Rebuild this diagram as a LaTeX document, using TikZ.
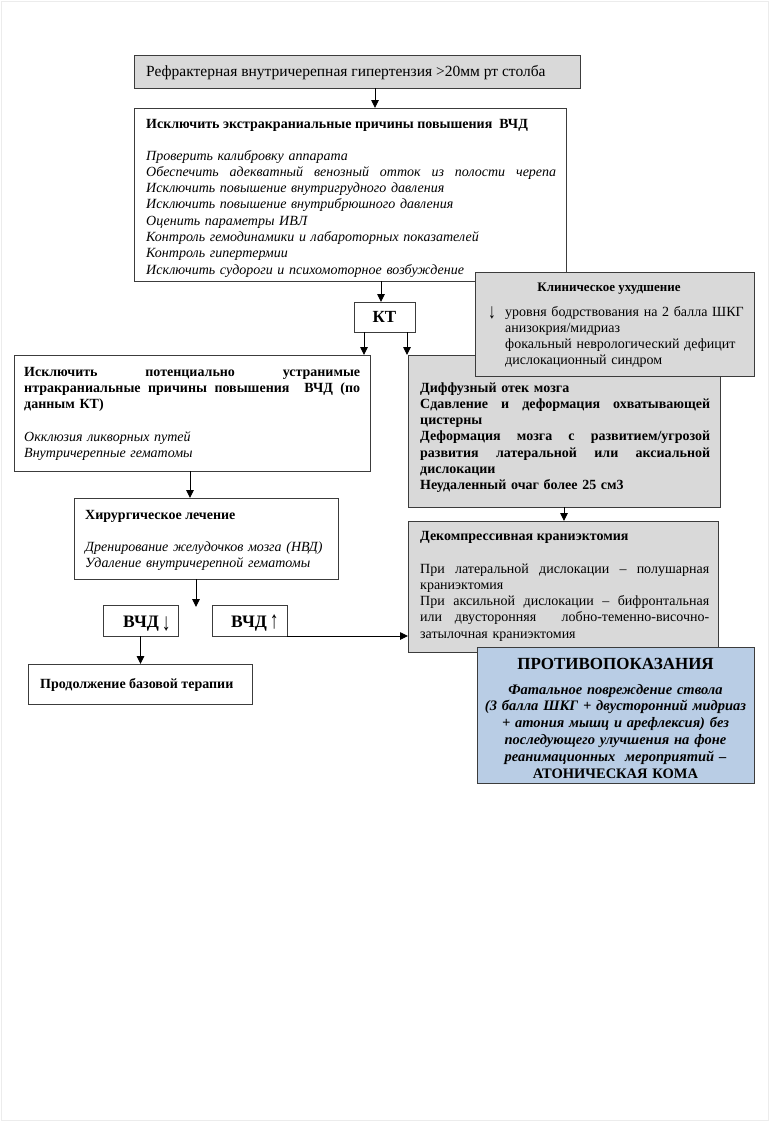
\documentclass[tikz,border=0pt]{standalone}
\usepackage{fontspec}
\setmainfont{Liberation Serif}
\usetikzlibrary{arrows.meta}
\definecolor{boxgray}{RGB}{217,217,217}
\definecolor{boxblue}{RGB}{185,205,229}
\definecolor{edge}{RGB}{60,60,60}
\newcommand{\fs}[1]{\fontsize{#1}{16.3}\selectfont}
\newcommand{\jl}[2]{\makebox[#1pt][s]{\spaceskip=\fontdimen2\font plus 1fil\relax #2}}
\newcommand{\dnarr}{\raisebox{-2pt}{\scalebox{1.1}[1.5]{↓}}}
\newcommand{\dnarrb}{\raisebox{-3pt}{\scalebox{1}[1.4]{↓}}}
\newcommand{\uparrb}{\raisebox{-1pt}{\scalebox{1}[1.4]{↑}}}
\tikzset{
  box/.style={draw=edge, line width=0.9pt, anchor=north west, inner sep=0pt, outer sep=0pt},
  arr/.style={-{Triangle[length=8pt,width=7.5pt]}, line width=0.9pt, black},
  txt/.style={anchor=base west, inner sep=0pt, align=left},
  body/.style={font=\fs{14}},
  bodyb/.style={font=\bfseries\fs{14}},
  bodyi/.style={font=\itshape\fs{14}},
  vcd/.style={txt, font=\bfseries\fontsize{17.5}{20}\selectfont},
}
\begin{document}
\begin{tikzpicture}[x=1pt,y=-1pt]
\useasboundingbox (0,0) rectangle (770,1122);
\draw[gray!15, line width=0.8pt] (1.5,1.5) rectangle (768.5,1120.5);

% boxes
\node[box, fill=boxgray, minimum width=446, minimum height=33] (b1) at (134,55) {};
\node[txt, font=\fs{15.5}] (b1t) at (146,76) {Рефрактерная внутричерепная гипертензия >20мм рт столба};

\node[box, fill=white, minimum width=432, minimum height=173] (b2) at (134,108) {};
\node[txt, bodyb] (b2t) at (146,128) {Исключить экстракраниальные причины повышения\ \ ВЧД};
\node[txt, bodyi, text width=410pt] (b2b) at (146,160) {Проверить калибровку аппарата\\
\jl{410}{Обеспечить адекватный венозный отток из полости черепа}\\
Исключить повышение внутригрудного давления\\
Исключить повышение внутрибрюшного давления\\
Оценить параметры ИВЛ\\
Контроль гемодинамики и лабароторных показателей\\
Контроль гипертермии\\
Исключить судороги и психомоторное возбуждение};

\node[box, fill=white, minimum width=61, minimum height=30, font=\bfseries\fontsize{17}{18}\selectfont] (kt) at (354,302) {КТ};

\node[box, fill=white, minimum width=356, minimum height=116] (b5) at (14,355) {};
\node[txt, bodyb, text width=336pt] (b5t) at (24,376) {\jl{336}{Исключить потенциально устранимые}\\
\jl{336}{нтракраниальные причины повышения\ \ ВЧД (по}\\
данным КТ)};
\node[txt, bodyi, text width=336pt] (b5b) at (24,441) {Окклюзия ликворных путей\\
Внутричерепные гематомы};

\node[box, fill=boxgray, minimum width=312, minimum height=152] (b6) at (408,355) {};
\node[txt, bodyb, text width=290pt] (b6t) at (420,392) {Диффузный отек мозга\\
\jl{290}{Сдавление и деформация охватывающей}\\
цистерны\\
\jl{290}{Деформация мозга с развитием/угрозой}\\
\jl{290}{развития латеральной или аксиальной}\\
дислокации\\
Неудаленный очаг более 25 см3};

\node[box, fill=boxgray, minimum width=279, minimum height=104] (b4) at (475,272) {};
\node[anchor=base, inner sep=0pt, font=\bfseries\fs{13}] (b4t) at (609,291) {Клиническое ухудшение};
\node[anchor=base, inner sep=0pt, body] (b4a) at (492,316) {\dnarr};
\node[txt, body, text width=245pt] (b4b) at (505,316) {уровня бодрствования на 2 балла ШКГ\\
анизокрия/мидриаз\\
фокальный неврологический дефицит\\
дислокационный синдром};

\node[box, fill=white, minimum width=264, minimum height=81] (b8) at (74,498) {};
\node[txt, bodyb] (b8t) at (85,519) {Хирургическое лечение};
\node[txt, bodyi, text width=250pt] (b8b) at (85,551) {Дренирование желудочков мозга (НВД)\\
Удаление внутричерепной гематомы};

\node[box, fill=boxgray, minimum width=310, minimum height=131] (b7) at (408,521) {};
\node[txt, bodyb] (b7t) at (420,540) {Декомпрессивная краниэктомия};
\node[txt, body, text width=289pt] (b7b) at (420,573) {\jl{289}{При латеральной дислокации – полушарная}\\
краниэктомия\\
\jl{289}{При аксильной дислокации – бифронтальная}\\
\jl{289}{или двусторонняя\ \ лобно-теменно-височно-}\\
затылочная краниэктомия};

\node[box, fill=white, minimum width=75, minimum height=31] (v1) at (103,605) {};
\node[vcd] (v1t) at (123,627) {ВЧД\,\dnarrb};
\node[box, fill=white, minimum width=75, minimum height=31] (v2) at (212,605) {};
\node[vcd] (v2t) at (231,627) {ВЧД\,\uparrb};

\node[box, fill=white, minimum width=224, minimum height=40] (fin) at (28,664) {};
\node[txt, bodyb] (fint) at (40,688) {Продолжение базовой терапии};

\node[box, fill=boxblue, minimum width=277, minimum height=136] (b9) at (477,647) {};
\node[anchor=base, inner sep=0pt, font=\bfseries\fontsize{17}{20}\selectfont] (b9t) at (615.5,669) {ПРОТИВОПОКАЗАНИЯ};
\node[anchor=base, inner sep=0pt, align=center, text width=277pt, font=\bfseries\itshape\fontsize{14.5}{16.8}\selectfont] (b9b) at (615.5,694) {Фатальное повреждение ствола\\
(3 балла ШКГ + двусторонний мидриаз\\
+ атония мышц и арефлексия) без\\
последующего улучшения на фоне\\
реанимационных\ \ мероприятий –\\
{\upshape АТОНИЧЕСКАЯ КОМА}};

% connector x positions
\coordinate (c375) at (375,0);
\coordinate (c381) at (381,0);
\coordinate (c364) at (364,0);
\coordinate (c407) at (407,0);
\coordinate (c190) at (190,0);
\coordinate (c196) at (196,0);
\coordinate (split) at (196,607);

\draw[arr] (b1.south -| c375) -- (b2.north -| c375);
\draw[arr] (b2.south -| c381) -- (kt.north -| c381);
\draw[arr] (kt.south -| c364) -- (b5.north -| c364);
\draw[arr] (kt.south -| c407) -- (b6.north -| c407);
\draw[arr] (b5.south -| c190) -- (b8.north -| c190);
\draw[arr] (b8.south -| c196) -- (split);
\draw[arr] (b6.south) -- (b6.south |- b7.north);
\draw[arr] (v1.south) -- (v1.south |- fin.north);
\draw[arr] (v2.south east) -- (v2.south east -| b7.west);
\end{tikzpicture}
\end{document}
